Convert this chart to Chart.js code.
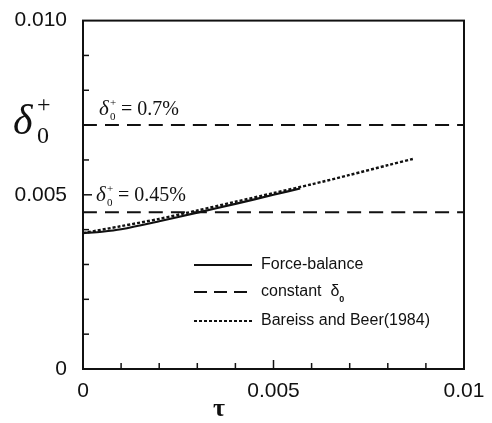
<!DOCTYPE html>
<html>
<head>
<meta charset="utf-8">
<script src="https://cdn.jsdelivr.net/npm/chart.js@4/dist/chart.umd.min.js"></script>
<style>
  html, body { margin: 0; padding: 0; background: #fff; }
  #wrap { width: 492px; height: 423px; }
</style>
</head>
<body>
<div id="wrap"><canvas id="plot" width="492" height="423"></canvas></div>
<script>
// data
const forceTau = [0, 0.0005, 0.001, 0.002, 0.003, 0.004, 0.005, 0.0057];
const forceDelta = [0.0039, 0.00394, 0.00401, 0.00424, 0.00449, 0.00474, 0.005, 0.00518];
const bareissTau = [0, 0.001, 0.002, 0.003, 0.004, 0.005, 0.006, 0.007, 0.008, 0.0087];
const bareissDelta = [0.0039, 0.0041, 0.00431, 0.00455, 0.0048, 0.00505, 0.0053, 0.00557, 0.00585, 0.00604];
const constTau = [0, 0.01];
const constHigh = [0.007, 0.007];
const constLow = [0.0045, 0.0045];
const xTickLabels = ['0', '0.005', '0.01'];
const yTickLabels = ['0', '0.005', '0.010'];

const pts = (xs, ys) => xs.map((x, i) => ({ x: x, y: ys[i] }));
const ink = '#111';

// inward ticks, frame, annotations, legend, axis titles
const decor = {
    id: 'decor',
    afterDraw(chart) {
        const c = chart.ctx, a = chart.chartArea;
        const xs = chart.scales.x, ys = chart.scales.y;
        c.save();
        c.strokeStyle = ink;
        c.lineWidth = 2;
        c.strokeRect(a.left, a.top, a.right - a.left, a.bottom - a.top);

        c.lineWidth = 1.5;
        for (let i = 1; i < 10; i++) {
            const v = i * 0.001;
            const big = i === 5;
            const px = xs.getPixelForValue(v);
            c.beginPath(); c.moveTo(px, a.bottom); c.lineTo(px, a.bottom - (big ? 9 : 6)); c.stroke();
            const py = ys.getPixelForValue(v);
            c.beginPath(); c.moveTo(a.left, py); c.lineTo(a.left + (big ? 9 : 6), py); c.stroke();
        }

        c.fillStyle = ink;
        c.textBaseline = 'alphabetic';
        // delta labels on the dashed lines
        const deltaLabel = (x, y, txt) => {
            c.font = 'italic 21px "Liberation Serif"';
            c.fillText('\u03b4', x, y);
            c.font = '11px "Liberation Serif"';
            c.fillText('+', x + 11, y - 9);
            c.fillText('0', x + 11, y + 5);
            c.font = '20px "Liberation Serif"';
            c.fillText('= ' + txt, x + 22, y);
        };
        deltaLabel(99, ys.getPixelForValue(0.007) - 10, '0.7%');
        deltaLabel(96, ys.getPixelForValue(0.0045) - 11, '0.45%');

        // y title
        c.font = 'italic 42px "Liberation Serif"';
        c.fillText('\u03b4', 13, 134);
        c.font = '24px "Liberation Serif"';
        c.fillText('+', 37, 112);
        c.fillText('0', 37, 143);
        // x title
        c.font = 'bold 26px "Liberation Serif"';
        c.textAlign = 'center';
        c.fillText('\u03c4', 219, 416);

        // legend
        c.textAlign = 'left';
        c.textBaseline = 'middle';
        c.font = '16px "Liberation Sans"';
        const rows = [
            { y: 265, dash: [], text: 'Force-balance' },
            { y: 292, dash: [13, 7], text: 'constant  \u03b4' },
            { y: 321, dash: [3, 2], text: 'Bareiss and Beer(1984)' }
        ];
        rows.forEach(r => {
            c.setLineDash(r.dash);
            c.lineWidth = 2;
            c.beginPath(); c.moveTo(194, r.y); c.lineTo(252, r.y); c.stroke();
            c.setLineDash([]);
            c.fillText(r.text, 261, r.y);
        });
        const sub = 261 + c.measureText(rows[1].text).width;
        c.font = 'bold 9px "Liberation Sans"';
        c.fillText('0', sub, 300);
        c.restore();
    }
};

const lineSet = (label, data, dash, width) => ({
    label: label,
    data: data,
    showLine: true,
    borderColor: ink,
    borderWidth: width,
    borderDash: dash,
    pointRadius: 0,
    tension: 0.3,
    fill: false
});

const tickFont = { family: 'Liberation Sans', size: 21 };

new Chart(document.getElementById('plot'), {
    type: 'scatter',
    data: {
        datasets: [
            lineSet('Force-balance', pts(forceTau, forceDelta), [], 2.2),
            lineSet('constant high', pts(constTau, constHigh), [14, 8], 2),
            lineSet('constant low', pts(constTau, constLow), [14, 8], 2),
            lineSet('Bareiss and Beer(1984)', pts(bareissTau, bareissDelta), [3, 2], 2.4)
        ]
    },
    options: {
        responsive: false,
        animation: false,
        layout: { padding: { top: 14, right: 28, left: 0, bottom: 0 } },
        plugins: { legend: { display: false }, tooltip: { enabled: false } },
        scales: {
            x: {
                type: 'linear', min: 0, max: 0.01,
                afterFit(s) { s.height = 54; },
                grid: { display: false },
                border: { display: false },
                ticks: {
                    stepSize: 0.005, padding: 2, color: ink, font: tickFont,
                    callback: (v) => {
                        const k = Math.round(v / 0.005);
                        return Math.abs(v - k * 0.005) < 1e-9 ? xTickLabels[k] : '';
                    }
                }
            },
            y: {
                type: 'linear', min: 0, max: 0.01,
                afterFit(s) { s.width = 83; },
                grid: { display: false },
                border: { display: false },
                ticks: {
                    stepSize: 0.005, padding: 8, color: ink, font: tickFont,
                    callback: (v) => {
                        const k = Math.round(v / 0.005);
                        return Math.abs(v - k * 0.005) < 1e-9 ? yTickLabels[k] : '';
                    }
                }
            }
        }
    },
    plugins: [decor]
});
</script>
</body>
</html>
